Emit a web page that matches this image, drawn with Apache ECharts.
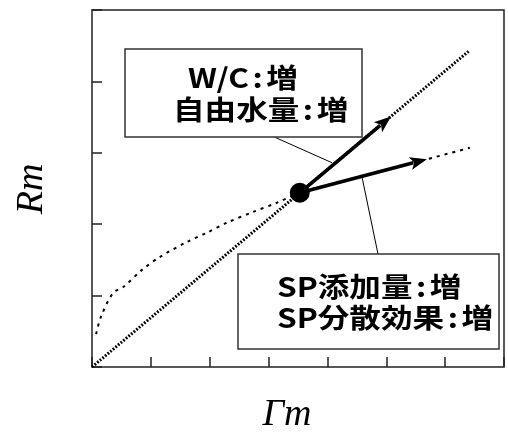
<!DOCTYPE html>
<html>
<head>
<meta charset="utf-8">
<script src="https://cdn.jsdelivr.net/npm/echarts@6/dist/echarts.min.js"></script>
<style>
  html, body { margin: 0; padding: 0; background: #fff; }
  #chart { width: 508px; height: 434px; }
</style>
</head>
<body>
<div id="chart"></div>
<script>
// Axis extents (arbitrary units, ticks every 1)
const xMax = 7;
const yMax = 5;

// Reference straight line through the origin (dotted)
const lineRef = [[0, 0], [6.41, 4.43]];

// Curved relation (dashed)
const curveRef = [
  [0.07, 0.46], [0.15, 0.70], [0.36, 1.04], [0.53, 1.12], [0.85, 1.36],
  [1.15, 1.54], [1.61, 1.75], [1.95, 1.88], [2.29, 2.02], [2.73, 2.17],
  [3.14, 2.30], [3.53, 2.44], [4.60, 2.68], [5.69, 2.91], [6.42, 3.07]
];

// Current state (filled circle)
const statePoint = [[3.53, 2.44]];

// Shift directions (start -> end)
const arrows = [
  [[3.53, 2.44], [5.08, 3.51]],
  [[3.53, 2.44], [5.69, 2.91]]
];

// Leader lines from the boxes to the arrows
const leaders = [
  [[3.10, 3.22], [4.08, 2.86]],
  [[4.86, 1.58], [4.58, 2.69]]
];

// Box captions: [label, value]
const boxUpper = [['W/C', '増'], ['自由水量', '増']];
const boxLower = [['SP添加量', '増'], ['SP分散効果', '増']];

const chart = echarts.init(document.getElementById('chart'));

const cjkFont = 'bold 27px "Noto Sans CJK JP"';
const mathFont = 'italic 38px "Liberation Serif"';

function caption(parts, x, y) {
  return {
    type: 'text', x: x, y: y, scaleX: 1.17, z: 110,
    style: {
      text: parts[0] + '{c|:}' + parts[1],
      font: cjkFont, fill: '#000', verticalAlign: 'middle', align: 'left',
      rich: { c: { font: cjkFont, fill: '#000', padding: [0, 3, 0, 3] } }
    }
  };
}

chart.setOption({
  animation: false,
  grid: {
    left: 92, right: 4, top: 10, bottom: 67,
    show: true, borderColor: '#222', borderWidth: 1.5, backgroundColor: 'transparent'
  },
  xAxis: {
    type: 'value', min: 0, max: xMax, interval: 1,
    axisLine: { show: false },
    axisTick: { show: true, inside: true, length: 10, lineStyle: { color: '#222', width: 1.5 } },
    axisLabel: { show: false },
    splitLine: { show: false }
  },
  yAxis: {
    type: 'value', min: 0, max: yMax, interval: 1,
    axisLine: { show: false },
    axisTick: { show: true, inside: true, length: 10, lineStyle: { color: '#222', width: 1.5 } },
    axisLabel: { show: false },
    splitLine: { show: false }
  },
  series: [
    {
      type: 'line', data: lineRef, symbol: 'none', silent: true,
      lineStyle: { color: '#000', width: 3, type: [1.8, 1.6] }
    },
    {
      type: 'line', data: curveRef, symbol: 'none', smooth: 0.3, silent: true,
      lineStyle: { color: '#000', width: 2, type: [3, 5] }
    },
    {
      type: 'lines', coordinateSystem: 'cartesian2d', silent: true,
      data: leaders.map(c => ({ coords: c })),
      lineStyle: { color: '#000', width: 1, opacity: 1 }
    },
    {
      type: 'custom', silent: true,
      data: arrows.map(a => [a[0][0], a[0][1], a[1][0], a[1][1]]),
      renderItem: function (params, api) {
        const p0 = api.coord([api.value(0), api.value(1)]);
        const p1 = api.coord([api.value(2), api.value(3)]);
        const dx = p1[0] - p0[0], dy = p1[1] - p0[1];
        const len = Math.sqrt(dx * dx + dy * dy);
        const ux = dx / len, uy = dy / len;
        const headLen = 17, headHalf = 6.5;
        const bx = p1[0] - ux * headLen, by = p1[1] - uy * headLen;
        return {
          type: 'group',
          children: [
            {
              type: 'line',
              shape: { x1: p0[0], y1: p0[1], x2: bx + ux * 3, y2: by + uy * 3 },
              style: { stroke: '#000', lineWidth: 3.6 }
            },
            {
              type: 'polygon',
              shape: { points: [
                p1,
                [bx - uy * headHalf, by + ux * headHalf],
                [bx + ux * 4, by + uy * 4],
                [bx + uy * headHalf, by - ux * headHalf]
              ] },
              style: { fill: '#000' }
            }
          ]
        };
      }
    },
    {
      type: 'scatter', data: statePoint, symbol: 'circle', symbolSize: 20, silent: true,
      itemStyle: { color: '#000', opacity: 1 }, z: 5
    }
  ],
  graphic: [
    {
      type: 'rect', z: 100,
      shape: { x: 125, y: 49, width: 237, height: 88 },
      style: { fill: '#fff', stroke: '#333', lineWidth: 1.5 }
    },
    caption(boxUpper[0], 188, 78),
    caption(boxUpper[1], 173, 110),
    {
      type: 'rect', z: 100,
      shape: { x: 238, y: 254, width: 261, height: 95 },
      style: { fill: '#fff', stroke: '#333', lineWidth: 1.5 }
    },
    caption(boxLower[0], 277, 287),
    caption(boxLower[1], 277, 318),
    {
      type: 'text', x: 32, y: 189, rotation: Math.PI / 2, z: 100,
      style: { text: 'Rm', font: mathFont, fill: '#000', align: 'center', verticalAlign: 'middle' }
    },
    {
      type: 'text', x: 287, y: 415, z: 100,
      style: { text: 'Γm', font: mathFont, fill: '#000', align: 'center', verticalAlign: 'middle' }
    }
  ]
});
</script>
</body>
</html>
